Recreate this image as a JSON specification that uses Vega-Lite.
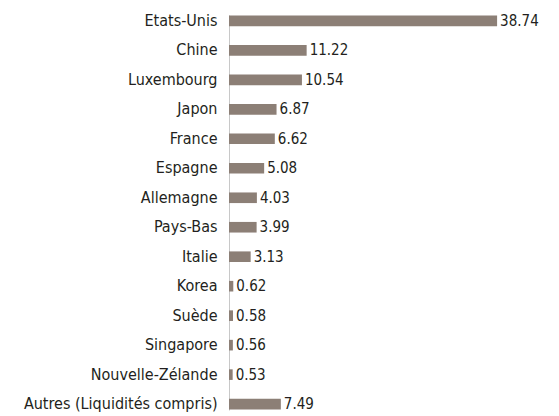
{
  "$schema": "https://vega.github.io/schema/vega-lite/v6.json",
  "autosize": "none",
  "width": 300,
  "height": 395,
  "padding": {"left": 229, "top": 15, "right": 30, "bottom": 6},
  "background": "white",
  "config": {"view": {"stroke": null}, "font": "DejaVu Sans Condensed, Liberation Sans, sans-serif"},
  "data": {"values": [
    {"pays": "Etats-Unis", "v": 38.74},
    {"pays": "Chine", "v": 11.22},
    {"pays": "Luxembourg", "v": 10.54},
    {"pays": "Japon", "v": 6.87},
    {"pays": "France", "v": 6.62},
    {"pays": "Espagne", "v": 5.08},
    {"pays": "Allemagne", "v": 4.03},
    {"pays": "Pays-Bas", "v": 3.99},
    {"pays": "Italie", "v": 3.13},
    {"pays": "Korea", "v": 0.62},
    {"pays": "Suède", "v": 0.58},
    {"pays": "Singapore", "v": 0.56},
    {"pays": "Nouvelle-Zélande", "v": 0.53},
    {"pays": "Autres (Liquidités compris)", "v": 7.49}
  ]},
  "encoding": {
    "y": {"field": "pays", "type": "nominal", "sort": null,
      "scale": {"paddingInner": 0.64, "paddingOuter": 0.02},
      "axis": {"title": null, "ticks": false, "domainColor": "#c8c8c8", "labelFontSize": 16, "labelColor": "#231f20", "labelPadding": 12, "labelLimit": 300, "labelFont": "DejaVu Sans Condensed, Liberation Sans, sans-serif"}},
    "x": {"field": "v", "type": "quantitative", "scale": {"domain": [0, 43.35], "nice": false}, "axis": null}
  },
  "layer": [
    {"mark": {"type": "bar", "color": "#8c7f76"}},
    {"mark": {"type": "text", "align": "left", "dx": 3, "fontSize": 15, "color": "#231f20", "font": "DejaVu Sans Condensed, Liberation Sans, sans-serif"},
     "encoding": {"text": {"field": "v", "type": "quantitative", "format": ".2f"}}}
  ]
}
